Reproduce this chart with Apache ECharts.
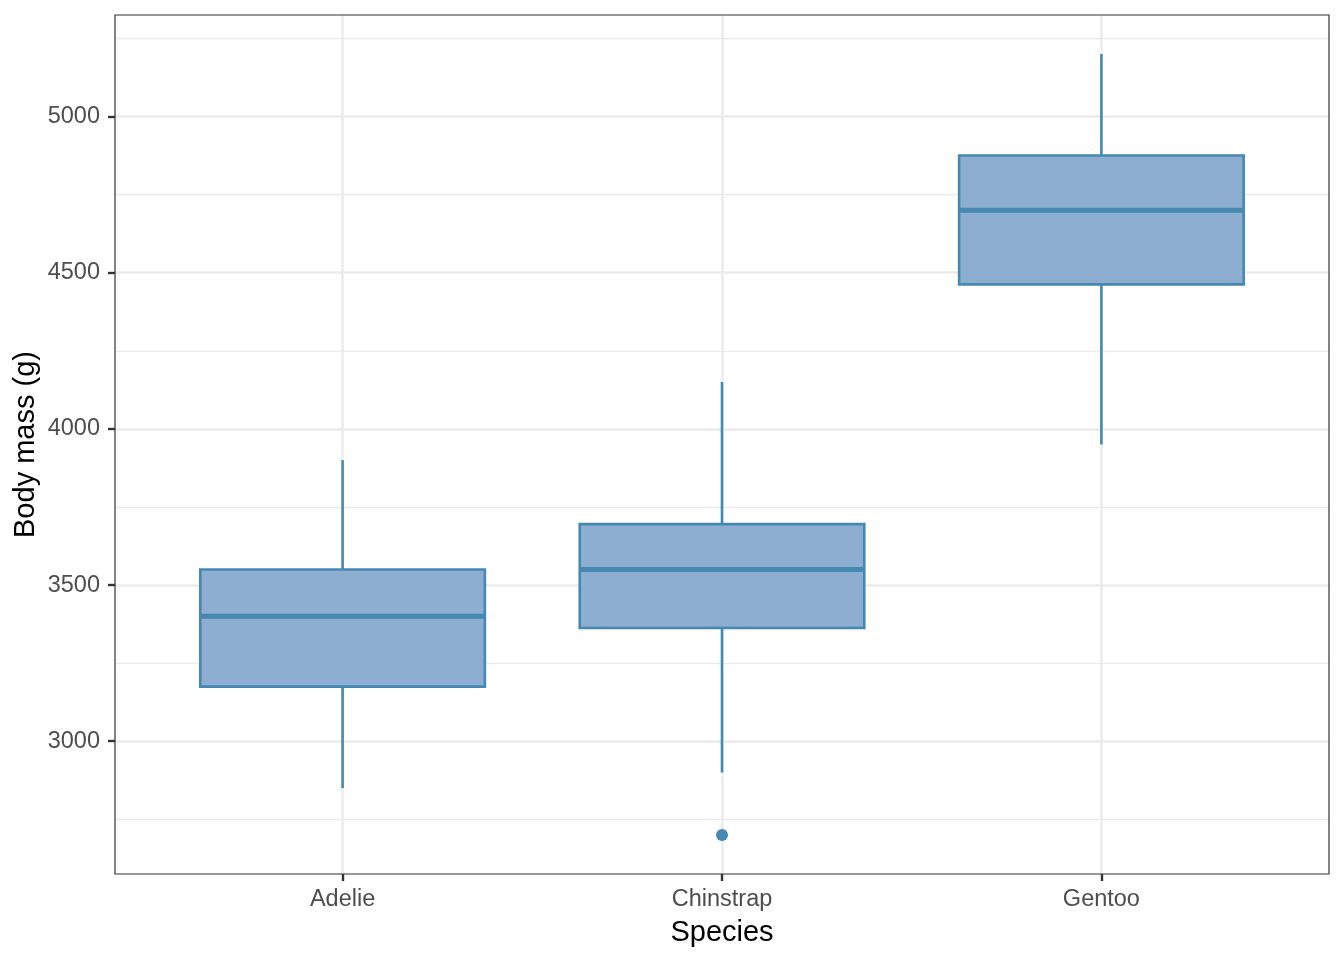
<!DOCTYPE html>
<html>
<head>
<meta charset="utf-8">
<script src="https://cdn.jsdelivr.net/npm/echarts@6/dist/echarts.min.js"></script>
<style>html,body{margin:0;padding:0;background:#fff}#c{width:1344px;height:960px}</style>
</head>
<body>
<div id="c"></div>
<script>
const species = ['Adelie', 'Chinstrap', 'Gentoo'];
const whiskerLow = [2850, 2900, 3950];
const q1 = [3175, 3362.5, 4462.5];
const median = [3400, 3550, 4700];
const q3 = [3550, 3695, 4875];
const whiskerHigh = [3900, 4150, 5200];
const outliers = [['Chinstrap', 2700]];
const yMin = 2575, yMax = 5325;

const FILL = '#8DADD1', STROKE = '#4589B1';
const FONT = '"Liberation Sans", Arial, sans-serif';

const boxData = species.map((s, i) => [i, whiskerLow[i], q1[i], median[i], q3[i], whiskerHigh[i]]);
const outData = outliers.map(o => [species.indexOf(o[0]), o[1]]);

const chart = echarts.init(document.getElementById('c'), null, {renderer: 'canvas'});
chart.setOption({
  animation: false,
  backgroundColor: '#fff',
  grid: [
    {left: 115, top: 15, width: 1214, height: 859, show: true, borderColor: '#333333', borderWidth: 1.2, backgroundColor: 'transparent', z: 10},
    {left: 342.6, top: 15, width: 758.8, height: 859}
  ],
  xAxis: [
    {gridIndex: 0, type: 'value', min: 0, max: 1, show: false},
    {
      gridIndex: 1, type: 'category', data: species, boundaryGap: false,
      name: 'Species', nameLocation: 'middle', nameGap: 44, nameMoveOverlap: false,
      nameTextStyle: {fontFamily: FONT, fontSize: 29, color: '#000'},
      axisLine: {show: false},
      axisTick: {show: true, length: 7, lineStyle: {color: '#333333', width: 2.4}},
      axisLabel: {margin: 14, fontFamily: FONT, fontSize: 23.5, color: '#4D4D4D'},
      splitLine: {show: true, lineStyle: {color: '#EBEBEB', width: 2.5}}
    }
  ],
  yAxis: [
    {
      gridIndex: 0, type: 'value', min: yMin, max: yMax, splitNumber: 5,
      name: 'Body mass (g)', nameLocation: 'middle', nameGap: 75, nameMoveOverlap: false,
      nameTextStyle: {fontFamily: FONT, fontSize: 29, color: '#000'},
      axisLine: {show: false},
      axisTick: {show: true, length: 7, lineStyle: {color: '#333333', width: 2.4}},
      axisLabel: {margin: 15, fontFamily: FONT, fontSize: 23.5, color: '#4D4D4D', showMinLabel: false, showMaxLabel: false,
        formatter: v => String(v)},
      splitLine: {show: true, showMinLine: false, showMaxLine: false, lineStyle: {color: '#EBEBEB', width: 2.5}},
      minorTick: {show: false, splitNumber: 2},
      minorSplitLine: {show: true, lineStyle: {color: '#EBEBEB', width: 1.4}}
    },
    {gridIndex: 1, type: 'value', min: yMin, max: yMax, show: false}
  ],
  series: [
    {
      type: 'custom',
      xAxisIndex: 1, yAxisIndex: 1,
      data: boxData,
      encode: {x: 0, y: [1, 2, 3, 4, 5]},
      z: 5,
      renderItem: function (params, api) {
        const x = api.value(0);
        const c0 = api.coord([0, yMin]);
        const c1 = api.coord([1, yMin]);
        const w = Math.abs(c1[0] - c0[0]) * 0.75;
        const pLow = api.coord([x, api.value(1)]);
        const pQ1 = api.coord([x, api.value(2)]);
        const pMed = api.coord([x, api.value(3)]);
        const pQ3 = api.coord([x, api.value(4)]);
        const pHigh = api.coord([x, api.value(5)]);
        const cx = pMed[0];
        const lineStyle = {stroke: STROKE, lineWidth: 2.6};
        return {
          type: 'group',
          children: [
            {type: 'line', shape: {x1: cx, y1: pQ3[1], x2: cx, y2: pHigh[1]}, style: lineStyle},
            {type: 'line', shape: {x1: cx, y1: pQ1[1], x2: cx, y2: pLow[1]}, style: lineStyle},
            {type: 'rect', shape: {x: cx - w / 2, y: pQ3[1], width: w, height: pQ1[1] - pQ3[1]}, style: {fill: FILL, stroke: STROKE, lineWidth: 2.6}},
            {type: 'line', shape: {x1: cx - w / 2, y1: pMed[1], x2: cx + w / 2, y2: pMed[1]}, style: {stroke: STROKE, lineWidth: 5}}
          ]
        };
      }
    },
    {
      type: 'scatter',
      xAxisIndex: 1, yAxisIndex: 1,
      data: outData,
      symbol: 'circle', symbolSize: 12,
      itemStyle: {color: STROKE, opacity: 1},
      z: 6
    }
  ]
});
</script>
</body>
</html>
